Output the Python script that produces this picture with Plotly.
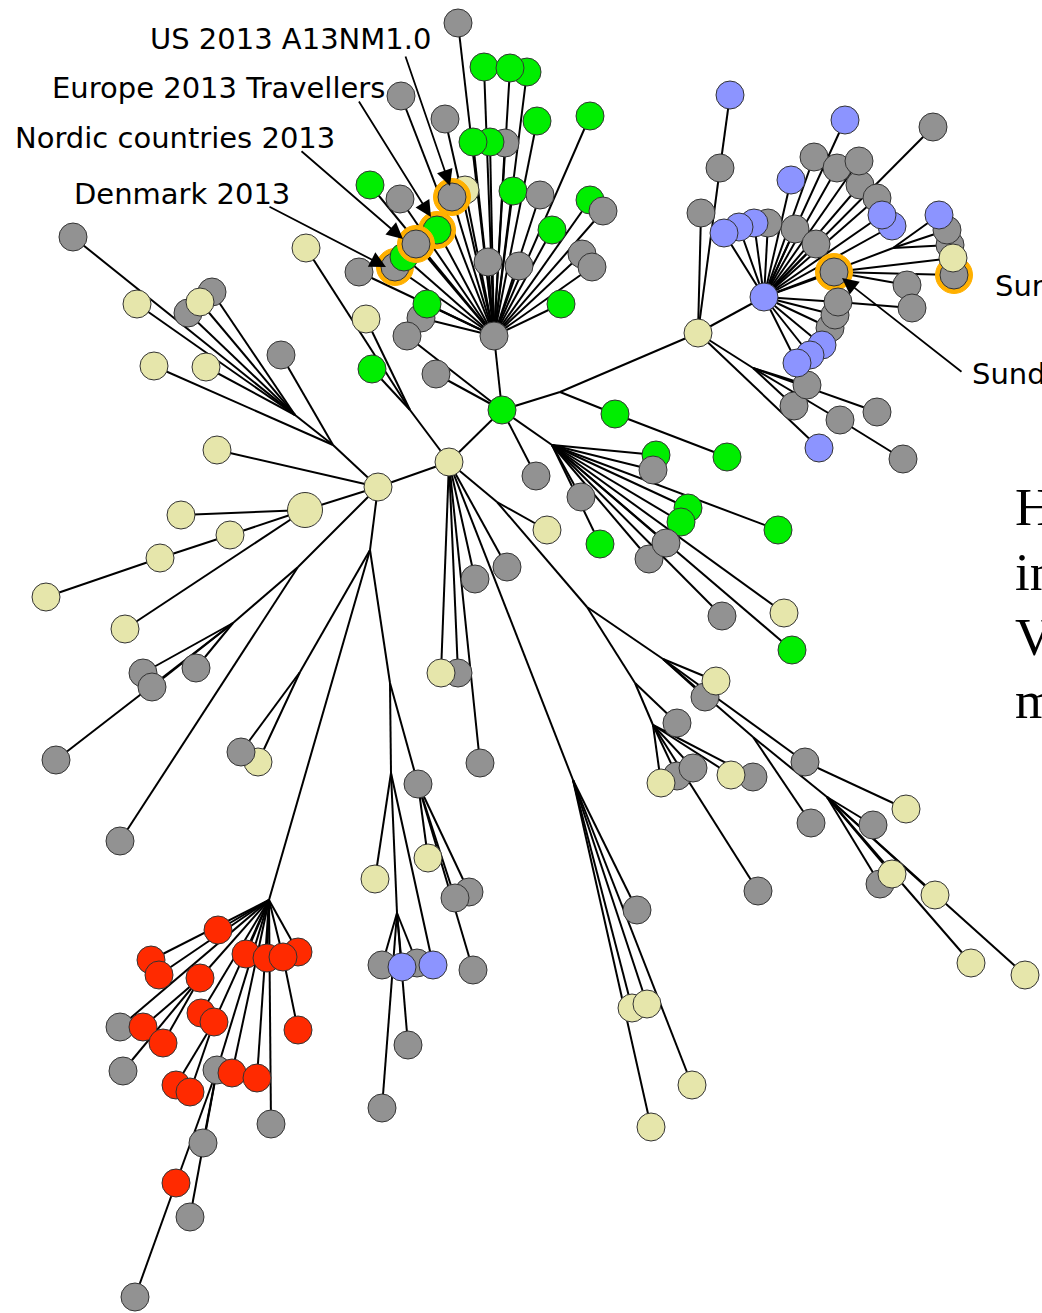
import plotly.graph_objects as go

W, H = 1042, 1313

FILL = {'g': '#929292', 'G': '#00ee00', 'y': '#e6e6ab', 'Y': '#e6e6ab',
        'b': '#8c94ff', 'r': '#ff2a00'}
RING = '#ffb000'

# ---------------- nodes: (id, x, y, kind)  kind 'j' = branch point ----------------
core_nodes = [('C1', 449, 462, 'y'), ('G', 502, 410, 'G'), ('Y2', 378, 487, 'y'),
              ('H1', 494, 336, 'g'), ('J1', 560, 392, 'j'), ('J2', 552, 445, 'j'),
              ('J3', 410, 410, 'j'), ('Y3', 698, 333, 'y'), ('B', 764, 297, 'b')]

top_nodes = [('t1', 458, 23, 'g'), ('t2', 484, 67, 'G'), ('t4', 527, 72, 'G'), ('t3', 510, 68, 'G'),
             ('t5', 401, 96, 'g'), ('t6', 445, 119, 'g'), ('t9', 505, 143, 'g'), ('t8', 490, 142, 'G'),
             ('t7', 473, 142, 'G'), ('t10', 537, 121, 'G'), ('t11', 590, 116, 'G'), ('t12', 465, 190, 'y'),
             ('t13', 452, 197, 'g'), ('t14', 370, 185, 'G'), ('t15', 400, 199, 'g'), ('t19', 395, 267, 'g'),
             ('t18', 404, 257, 'G'), ('t16', 437, 230, 'G'), ('t17', 416, 244, 'g'), ('t20', 359, 272, 'g'),
             ('t21', 513, 191, 'G'), ('t22', 540, 195, 'g'), ('t23', 552, 230, 'G'), ('t24', 590, 200, 'G'),
             ('t25', 603, 211, 'g'), ('t26', 488, 262, 'g'), ('t27', 519, 266, 'g'), ('t28', 582, 254, 'g'),
             ('t29', 592, 267, 'g'), ('t31', 561, 304, 'G'), ('t32', 421, 318, 'g'), ('t30', 427, 304, 'G')]

mid_nodes = [('g1', 536, 476, 'g'), ('t33', 407, 336, 'g'), ('t34', 436, 374, 'g'),
             ('t35', 366, 319, 'y'), ('t36', 372, 369, 'G'), ('t37', 306, 248, 'y'),
             ('a1', 656, 455, 'G'), ('a2', 653, 470, 'g'), ('a3', 688, 508, 'G'), ('a4', 681, 522, 'G'),
             ('a6', 649, 559, 'g'), ('a5', 666, 543, 'g'), ('a7', 778, 530, 'G'), ('a8', 581, 497, 'g'),
             ('a9', 600, 544, 'G'), ('a10', 722, 616, 'g'), ('a11', 784, 613, 'y'), ('a12', 792, 650, 'G'),
             ('a13', 615, 414, 'G'), ('a14', 727, 457, 'G')]

left_nodes = [('J4', 333, 445, 'j'), ('J5', 295, 415, 'j'),
              ('l1', 73, 237, 'g'), ('l2', 137, 304, 'y'), ('l3', 188, 313, 'g'), ('l5', 212, 292, 'g'),
              ('l4', 200, 302, 'y'), ('l6', 281, 355, 'g'), ('l7', 154, 366, 'y'), ('l8', 206, 367, 'y'),
              ('l9', 217, 450, 'y'), ('LY', 305, 510, 'Y'), ('l10', 181, 515, 'y'), ('l11', 230, 535, 'y'),
              ('l12', 160, 558, 'y'), ('l13', 46, 597, 'y'), ('l14', 125, 629, 'y')]

lowleft_nodes = [('J6', 233, 623, 'j'), ('J7', 298, 567, 'j'), ('J8', 370, 550, 'j'), ('J9', 300, 672, 'j'),
                 ('m1', 143, 673, 'g'), ('m2', 152, 687, 'g'), ('m3', 196, 668, 'g'), ('m4', 56, 760, 'g'),
                 ('m5', 120, 841, 'g'), ('m7', 258, 762, 'y'), ('m6', 241, 752, 'g')]

red_nodes = [('R0', 269, 900, 'j'),
             ('rg1', 120, 1027, 'g'), ('rg2', 123, 1071, 'g'), ('rg3', 217, 1070, 'g'), ('rg4', 203, 1143, 'g'),
             ('rg5', 190, 1217, 'g'), ('rg6', 271, 1124, 'g'), ('rg7', 135, 1297, 'g'),
             ('q1', 218, 930, 'r'), ('q2', 151, 960, 'r'), ('q3', 159, 975, 'r'), ('q4', 200, 978, 'r'),
             ('q7', 298, 952, 'r'), ('q5', 246, 954, 'r'), ('q6', 267, 958, 'r'), ('q8', 283, 957, 'r'),
             ('q9', 143, 1027, 'r'), ('q10', 163, 1043, 'r'), ('q11', 201, 1013, 'r'), ('q12', 214, 1022, 'r'),
             ('q13', 298, 1030, 'r'), ('q14', 232, 1073, 'r'), ('q15', 257, 1078, 'r'), ('q16', 176, 1085, 'r'),
             ('q17', 190, 1092, 'r'), ('q18', 176, 1183, 'r')]

bluelow_nodes = [('J10', 390, 683, 'j'), ('J11', 391, 773, 'j'), ('J12', 397, 913, 'j'),
                 ('n1', 418, 784, 'g'), ('n2', 375, 879, 'y'), ('n4', 382, 965, 'g'), ('n6', 417, 963, 'g'),
                 ('n5', 402, 967, 'b'), ('n3', 433, 965, 'b'), ('n7', 382, 1108, 'g'), ('n8', 408, 1045, 'g'),
                 ('n9', 428, 858, 'y'), ('n11', 469, 892, 'g'), ('n10', 455, 898, 'g'), ('n12', 473, 970, 'g')]

centre_nodes = [('J13', 573, 780, 'j'), ('J19', 497, 502, 'j'), ('J20', 587, 607, 'j'),
                ('c2', 458, 673, 'g'), ('c1', 441, 673, 'y'), ('c3', 480, 763, 'g'), ('c4', 475, 579, 'g'),
                ('c5', 507, 567, 'g'), ('c6', 547, 530, 'y'),
                ('d1', 637, 910, 'g'), ('d2', 632, 1008, 'y'), ('d3', 647, 1004, 'y'), ('d4', 692, 1085, 'y'),
                ('d5', 651, 1127, 'y')]

lowright_nodes = [('J15', 663, 659, 'j'), ('J16', 753, 737, 'j'), ('J17', 653, 725, 'j'), ('J18', 635, 683, 'j'),
                  ('J21', 827, 797, 'j'),
                  ('e1', 677, 723, 'g'), ('e3', 677, 776, 'g'), ('e4', 693, 768, 'g'), ('e2', 661, 783, 'y'),
                  ('e6', 753, 777, 'g'), ('e5', 731, 775, 'y'), ('e7', 758, 891, 'g'),
                  ('f2', 705, 697, 'g'), ('f1', 716, 681, 'y'), ('f3', 805, 762, 'g'), ('f4', 906, 809, 'y'),
                  ('f5', 811, 823, 'g'), ('f6', 873, 825, 'g'), ('f7', 880, 884, 'g'), ('f8', 892, 874, 'y'),
                  ('f9', 935, 895, 'y'), ('f10', 971, 963, 'y'), ('f11', 1025, 975, 'y')]

right_nodes = [('J22', 753, 368, 'j'), ('J23', 893, 248, 'j'),
               ('r1', 701, 213, 'g'), ('r2', 720, 168, 'g'), ('r4', 730, 95, 'b'), ('r3', 819, 448, 'b'),
               ('s1', 794, 406, 'g'), ('s2', 807, 385, 'g'), ('s3', 877, 412, 'g'), ('s4', 840, 420, 'g'),
               ('s5', 903, 459, 'g'),
               ('k1', 768, 223, 'g'), ('k2', 754, 223, 'b'), ('k3', 739, 227, 'b'), ('k4', 724, 233, 'b'),
               ('k5', 795, 229, 'g'), ('k6', 791, 180, 'b'), ('k7', 814, 157, 'g'), ('k8', 837, 168, 'g'),
               ('k9', 860, 185, 'g'), ('k10', 859, 161, 'g'), ('k11', 845, 120, 'b'), ('k12', 933, 127, 'g'),
               ('k13', 877, 198, 'g'), ('k15', 892, 226, 'b'), ('k14', 882, 215, 'b'), ('k16', 816, 244, 'g'),
               ('k17', 834, 272, 'g'), ('k21', 954, 275, 'g'), ('k20', 950, 245, 'g'), ('k19', 947, 230, 'g'),
               ('k18', 939, 215, 'b'), ('k22', 953, 258, 'y'), ('k23', 907, 285, 'g'), ('k24', 912, 308, 'g'),
               ('k27', 830, 328, 'g'), ('k26', 835, 315, 'g'), ('k25', 838, 302, 'g'),
               ('k28', 822, 345, 'b'), ('k29', 810, 355, 'b'), ('k30', 797, 363, 'b')]

ring_ids = ['t13', 't16', 't17', 't19', 'k17', 'k21']

# ---------------- edges ----------------
core_edges = [('C1', 'G'), ('C1', 'Y2'), ('G', 'H1'), ('G', 'J1'), ('J1', 'Y3'), ('G', 'J2'), ('C1', 'J3')]
top_edges = [('H1', n[0]) for n in top_nodes]
mid_edges = [('G', 'g1'), ('G', 't33'), ('G', 't34'), ('J3', 't35'), ('J3', 't36'), ('J3', 't37'),
             ('J1', 'a13'), ('a13', 'a14')] + \
            [('J2', a) for a in ['a1', 'a2', 'a3', 'a4', 'a5', 'a6', 'a7', 'a8', 'a9', 'a10', 'a11', 'a12']]
left_edges = [('Y2', 'J4'), ('J4', 'J5'), ('J4', 'l6'), ('J4', 'l7'),
              ('J5', 'l1'), ('J5', 'l2'), ('J5', 'l3'), ('J5', 'l4'), ('J5', 'l5'), ('J5', 'l8'),
              ('Y2', 'l9'), ('Y2', 'LY'), ('LY', 'l10'), ('LY', 'l11'), ('LY', 'l14'),
              ('l11', 'l12'), ('l12', 'l13')]
lowleft_edges = [('Y2', 'J7'), ('J7', 'J6'), ('J6', 'm1'), ('J6', 'm2'), ('J6', 'm3'), ('J6', 'm4'),
                 ('J7', 'm5'), ('Y2', 'J8'), ('J8', 'J9'), ('J9', 'm6'), ('J9', 'm7'),
                 ('J8', 'R0'), ('J8', 'J10')]
red_edges = [('R0', r) for r in ['q1', 'q2', 'q3', 'q4', 'q5', 'q6', 'q7', 'q8', 'q11', 'q12', 'q14',
                                 'q15', 'rg1', 'rg3', 'rg6']] + \
            [('q4', 'q9'), ('q4', 'q10'), ('q4', 'rg2'), ('q8', 'q13'), ('q12', 'q16'), ('q12', 'q17'),
             ('rg3', 'rg4'), ('rg3', 'rg5'), ('rg3', 'q18'), ('q18', 'rg7')]
bluelow_edges = [('J10', 'J11'), ('J10', 'n1'), ('J11', 'n2'), ('J11', 'J12'), ('J11', 'n3'),
                 ('J12', 'n4'), ('J12', 'n5'), ('J12', 'n6'), ('J12', 'n7'), ('J12', 'n8'),
                 ('n1', 'n9'), ('n1', 'n10'), ('n1', 'n11'), ('n1', 'n12')]
centre_edges = [('C1', c) for c in ['c1', 'c2', 'c3', 'c4', 'c5', 'J19', 'J13']] + \
               [('J19', 'c6'), ('J19', 'J20')] + [('J13', d) for d in ['d1', 'd2', 'd3', 'd4', 'd5']]
lowright_edges = [('J20', 'J15'), ('J20', 'J18'), ('J18', 'e1'), ('J18', 'J17')] + \
                 [('J17', e) for e in ['e2', 'e3', 'e4', 'e5', 'e6', 'e7']] + \
                 [('J15', 'f1'), ('J15', 'f2'), ('J15', 'f3'), ('J15', 'J16'), ('f3', 'f4'),
                  ('J16', 'f5'), ('J16', 'J21')] + \
                 [('J21', f) for f in ['f6', 'f7', 'f8', 'f9', 'f10', 'f11']]
right_edges = [('Y3', 'r1'), ('Y3', 'r2'), ('r2', 'r4'), ('Y3', 'B'), ('Y3', 'J22'), ('Y3', 'r3'),
               ('J22', 's1'), ('J22', 's2'), ('J22', 's3'), ('J22', 's4'), ('s4', 's5')] + \
              [('B', k) for k in ['k1', 'k2', 'k3', 'k4', 'k5', 'k6', 'k7', 'k8', 'k9', 'k10', 'k11', 'k12',
                                  'k13', 'k14', 'k15', 'k16', 'k17', 'k25', 'k26', 'k27', 'k28', 'k29',
                                  'k30', 'J23']] + \
              [('J23', 'k18'), ('J23', 'k19'), ('J23', 'k20'), ('k17', 'k21'), ('k17', 'k22'),
               ('k17', 'k23'), ('k25', 'k24')]

# ---------------- labels ----------------
label_text = ['US 2013 A13NM1.0', 'Europe 2013 Travellers', 'Nordic countries 2013', 'Denmark 2013',
              'Sur', 'Sund']
label_x = [148, 50, 13, 72, 993, 970]
label_y = [39, 88, 138, 194, 286, 374]

arrow_tail_x = [405, 358, 300, 268, 963]
arrow_tail_y = [55, 100, 150, 206, 373]
arrow_tip_x = [450, 431, 403, 386, 842]
arrow_tip_y = [186, 217, 239, 267, 278]

big_text = ['H', 'in', 'V', 'm']
big_y = [507, 572, 637, 700]

# ---------------- build ----------------
all_nodes = (core_nodes + top_nodes + mid_nodes + left_nodes + lowleft_nodes + red_nodes +
             bluelow_nodes + centre_nodes + lowright_nodes + right_nodes)
all_edges = (core_edges + top_edges + mid_edges + left_edges + lowleft_edges + red_edges +
             bluelow_edges + centre_edges + lowright_edges + right_edges)
pos = {n[0]: (n[1], n[2]) for n in all_nodes}

ex, ey = [], []
for a, b in all_edges:
    ex += [pos[a][0], pos[b][0], None]
    ey += [pos[a][1], pos[b][1], None]

fig = go.Figure()
fig.add_trace(go.Scatter(x=ex, y=ey, mode='lines', line=dict(color='black', width=2),
                         hoverinfo='skip'))

mx, my, mc, ms, ml = [], [], [], [], []
for nid, x, y, k in all_nodes:
    if k == 'j':
        continue
    if nid in ring_ids:
        mx.append(x); my.append(y); mc.append(RING); ms.append(37); ml.append(RING)
    mx.append(x); my.append(y); mc.append(FILL[k]); ms.append(35 if k == 'Y' else 28); ml.append('#333333')
fig.add_trace(go.Scatter(x=mx, y=my, mode='markers',
                         marker=dict(color=mc, size=ms, opacity=1, line=dict(color=ml, width=1)),
                         hoverinfo='skip'))

annotations = []
for tx, ty, hx, hy in zip(arrow_tail_x, arrow_tail_y, arrow_tip_x, arrow_tip_y):
    annotations.append(dict(x=hx, y=hy, ax=tx, ay=ty, xref='x', yref='y', axref='x', ayref='y',
                            text='', showarrow=True, arrowhead=2, arrowsize=1.8, arrowwidth=1.8,
                            arrowcolor='black', standoff=0, startstandoff=0))
for t, x, y in zip(label_text, label_x, label_y):
    annotations.append(dict(x=x, y=y, xref='x', yref='y', text=t, showarrow=False,
                            xanchor='left', yanchor='middle',
                            font=dict(family='DejaVu Sans', size=29, color='black')))
for t, y in zip(big_text, big_y):
    annotations.append(dict(x=1013, y=y, xref='x', yref='y', text=t, showarrow=False,
                            xanchor='left', yanchor='middle',
                            font=dict(family='Liberation Serif', size=53, color='black')))

fig.update_layout(width=W, height=H, margin=dict(l=0, r=0, t=0, b=0),
                  paper_bgcolor='white', plot_bgcolor='white', showlegend=False,
                  xaxis=dict(range=[0, W], visible=False, fixedrange=True),
                  yaxis=dict(range=[H, 0], visible=False, fixedrange=True),
                  annotations=annotations)

fig.write_html('out.html', config={'displayModeBar': False},
               post_script="document.body.style.margin='0';")
